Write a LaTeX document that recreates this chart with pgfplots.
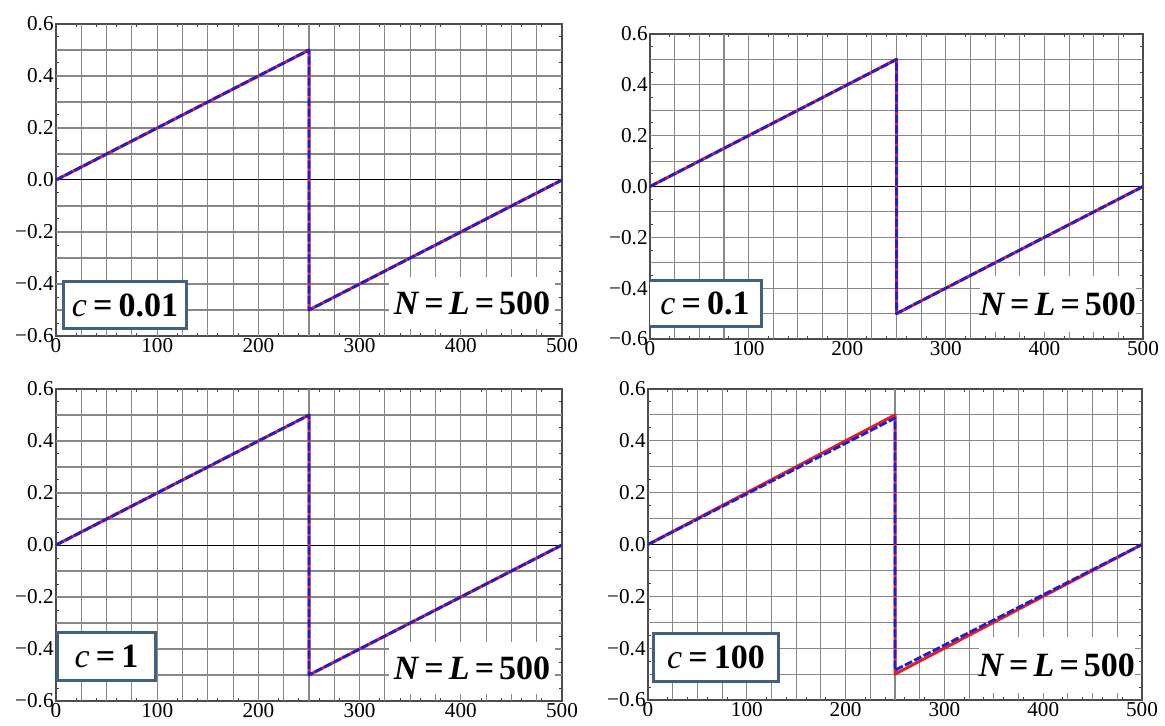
\documentclass[border=0pt]{standalone}
\usepackage{fontspec}
\setmainfont{Liberation Serif}
\usepackage{pgfplots}
\pgfplotsset{compat=1.18}
\definecolor{myred}{RGB}{228,30,38}
\definecolor{myblue}{RGB}{30,30,215}
\definecolor{boxblue}{RGB}{68,96,128}
\definecolor{gridgray}{RGB}{135,135,135}

\pgfplotsset{
  panel/.style={
    scale only axis, anchor=south west,
    xmin=0, xmax=500, ymin=-0.6, ymax=0.6,
    xtick={0,100,200,300,400,500},
    xticklabels={0,100,200,300,400,500},
    ytick={-0.6,-0.4,-0.2,0,0.2,0.4,0.6},
    yticklabels={−0.6,−0.4,−0.2,0.0,0.2,0.4,0.6},
    minor x tick num=4,
    minor y tick num=3,
    extra x ticks={25,50,75,100,125,150,175,200,225,250,275,300,325,350,375,400,425,450,475},
    extra x tick labels={},
    extra x tick style={grid=major, major tick length=0pt},
    extra y ticks={-0.5,-0.4,-0.3,-0.2,-0.1,0.1,0.2,0.3,0.4,0.5},
    extra y tick labels={},
    extra y tick style={grid=major, major tick length=0pt},
    grid style={gridgray, line width=0.55pt},
    major tick length=3pt, minor tick length=1.6pt,
    tick align=inside,
    tick style={black!75, line width=0.5pt},
    axis line style={black!70, line width=0.6pt},
    ticklabel style={font=\fontsize{10.6}{11}\selectfont},
    yticklabel style={inner xsep=1pt},
    xticklabel style={inner ysep=0.8pt},
  },
}
\tikzset{
  cbox/.style={draw=boxblue, line width=1.5pt, fill=white, anchor=south west, inner sep=0pt, font=\fontsize{17}{17}\selectfont},
  nbox/.style={fill=white, anchor=south east, inner sep=0pt, minimum height=26pt, font=\fontsize{17}{17}\selectfont, xshift=-3.3pt, yshift=3.3pt},
  redline/.style={myred, line width=1.5pt, line join=round},
  blueline/.style={myblue, line width=1.4pt, dash pattern=on 4pt off 1.2pt, line join=round},
}
\newcommand{\NL}{\textbf{\textit{N}\hspace{0.15em}=\hspace{0.15em}\textit{L}\hspace{0.15em}=\hspace{0.15em}500}}
\newcommand{\cval}[1]{\textit{c}\hspace{0.18em}\textbf{=}\hspace{0.18em}\textbf{#1}}

\begin{document}
\begin{tikzpicture}
\useasboundingbox (0,0) rectangle (582.5pt,362.5pt);

% top-left: c = 0.01
\begin{axis}[panel, at={(28pt,194.5pt)}, width=253pt, height=156pt]
\addplot[black, line width=0.5pt] coordinates {(0,0) (500,0)};
\addplot[redline] coordinates {(0,0) (250,0.5) (250,-0.5) (500,0)};
\addplot[blueline] coordinates {(0,0) (250,0.5) (250,-0.5) (500,0)};
\node[cbox, minimum width=61.5pt, minimum height=23.5pt] at (axis cs:6,-0.577) {\cval{0.01}};
\node[nbox, minimum width=83pt] at (axis cs:500,-0.6) {\NL};
\end{axis}

% top-right: c = 0.1
\begin{axis}[panel, at={(325pt,193pt)}, width=246.5pt, height=152.5pt]
\addplot[black, line width=0.5pt] coordinates {(0,0) (500,0)};
\addplot[redline] coordinates {(0,0) (250,0.5) (250,-0.5) (500,0)};
\addplot[blueline] coordinates {(0,0) (250,0.5) (250,-0.5) (500,0)};
\node[cbox, minimum width=56.5pt, minimum height=23pt] at (axis cs:-3,-0.556) {\cval{0.1}};
\node[nbox, minimum width=78pt, minimum height=28pt] at (axis cs:500,-0.6) {\NL};
\end{axis}

% bottom-left: c = 1
\begin{axis}[panel, at={(28pt,12pt)}, width=253pt, height=156pt]
\addplot[black, line width=0.5pt] coordinates {(0,0) (500,0)};
\addplot[redline] coordinates {(0,0) (250,0.5) (250,-0.5) (500,0)};
\addplot[blueline] coordinates {(0,0) (250,0.5) (250,-0.5) (500,0)};
\node[cbox, minimum width=49pt, minimum height=24pt] at (axis cs:0,-0.527) {\cval{1}};
\node[nbox, minimum width=83pt] at (axis cs:500,-0.6) {\NL};
\end{axis}

% bottom-right: c = 100
\begin{axis}[panel, at={(324pt,12.5pt)}, width=247pt, height=155.5pt]
\addplot[black, line width=0.5pt] coordinates {(0,0) (500,0)};
\addplot[redline] coordinates {(0,0) (250,0.5) (250,-0.5) (500,0)};
\addplot[blueline] coordinates {(0,0) (250,0.488) (250,-0.485) (500,0)};
\node[cbox, minimum width=62.5pt, minimum height=24pt] at (axis cs:4,-0.535) {\cval{100}};
\node[nbox, minimum width=78pt, minimum height=28pt] at (axis cs:500,-0.6) {\NL};
\end{axis}
\end{tikzpicture}
\end{document}
